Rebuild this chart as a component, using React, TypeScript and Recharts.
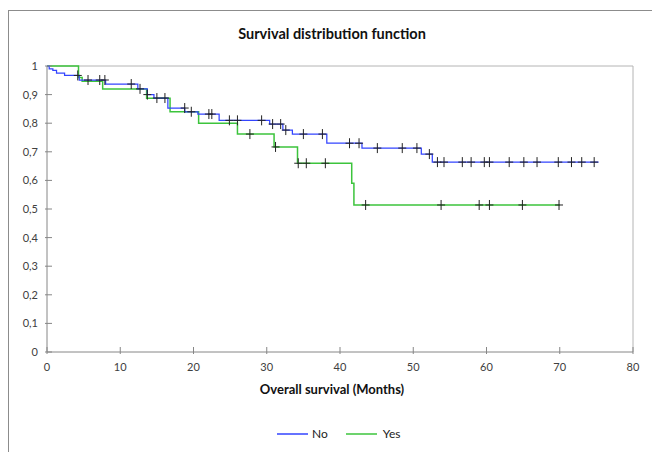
import { ComposedChart, Line, Scatter, XAxis, YAxis, ReferenceLine } from 'recharts';

// Kaplan-Meier step points
const noMonths = [0, 0.3, 0.8, 1.3, 2.4, 4.4, 8.0, 12.4, 13.7, 14.6, 16.5, 18.8, 20.6, 23.5, 30.4, 32.2, 33.5, 38.2, 43.0, 51.1, 52.6, 75.3];
const noSurv = [1, 0.99, 0.985, 0.975, 0.967, 0.951, 0.937, 0.92, 0.9, 0.888, 0.853, 0.84, 0.832, 0.81, 0.797, 0.776, 0.762, 0.73, 0.713, 0.692, 0.664, 0.664];

const yesMonths = [0, 4.3, 4.8, 7.6, 13.6, 16.8, 20.7, 26.0, 31.0, 34.2, 41.6, 41.9, 70.0];
const yesSurv = [1, 0.96, 0.947, 0.92, 0.887, 0.84, 0.8, 0.762, 0.717, 0.66, 0.59, 0.514, 0.514];

// censored observations (+ marks)
const noCensMonths = [4.2, 5.6, 7.2, 7.9, 11.5, 12.7, 13.7, 15.0, 16.1, 18.8, 19.7, 22.1, 22.5, 24.9, 26.0, 29.3, 30.8, 31.9, 32.6, 35.0, 37.6, 41.3, 42.6, 45.1, 48.5, 50.5, 52.2, 53.3, 54.2, 56.7, 57.9, 59.7, 60.4, 63.1, 65.1, 66.9, 69.8, 71.6, 73.0, 74.7];
const noCensSurv = [0.967, 0.951, 0.951, 0.951, 0.937, 0.92, 0.9, 0.888, 0.888, 0.853, 0.84, 0.832, 0.832, 0.81, 0.81, 0.81, 0.797, 0.797, 0.776, 0.762, 0.762, 0.73, 0.73, 0.713, 0.713, 0.713, 0.692, 0.664, 0.664, 0.664, 0.664, 0.664, 0.664, 0.664, 0.664, 0.664, 0.664, 0.664, 0.664, 0.664];

const yesCensMonths = [27.7, 31.2, 34.3, 35.4, 38.0, 43.5, 53.8, 59.0, 60.4, 64.9, 69.9];
const yesCensSurv = [0.762, 0.717, 0.66, 0.66, 0.66, 0.514, 0.514, 0.514, 0.514, 0.514, 0.514];

const xTicks = [0, 10, 20, 30, 40, 50, 60, 70, 80];
const yTicks = [0, 0.1, 0.2, 0.3, 0.4, 0.5, 0.6, 0.7, 0.8, 0.9, 1];

const BLUE = '#3344ff';
const GREEN = '#3cc43c';
const AXIS = '#868686';
const FONT = 'Lato, "Liberation Sans", sans-serif';

const toPoints = (xs: number[], ys: number[]) => xs.map((t, i) => ({ t, s: ys[i] }));

const noData = toPoints(noMonths, noSurv);
const yesData = toPoints(yesMonths, yesSurv);
const noCens = toPoints(noCensMonths, noCensSurv);
const yesCens = toPoints(yesCensMonths, yesCensSurv);

const fmtY = (v: number) => (v === 0 || v === 1 ? String(v) : v.toFixed(1).replace('.', ','));

function YTick({ x, y, payload }: any) {
  return (
    <g>
      <line x1={x - 2} x2={x + 5} y1={y} y2={y} stroke={AXIS} />
      <text x={x - 9} y={y + 4} textAnchor="end" fontSize={11} fill="#404040" fontFamily={FONT}>
        {fmtY(payload.value)}
      </text>
    </g>
  );
}

function XTick({ x, y, payload }: any) {
  return (
    <g>
      <line x1={x} x2={x} y1={y - 5} y2={y + 2} stroke={AXIS} />
      <text x={x} y={y + 19} textAnchor="middle" fontSize={11} fill="#404040" fontFamily={FONT}>
        {payload.value}
      </text>
    </g>
  );
}

function Cross({ cx, cy }: any) {
  return <path d={`M${cx - 4},${cy}H${cx + 4}M${cx},${cy - 5}V${cy + 5}`} stroke="#222" strokeWidth={1} fill="none" />;
}

function LegendSwatch({ color }: { color: string }) {
  return (
    <svg width={31} height={4} style={{ display: 'block' }}>
      <line x1={0} x2={31} y1={2} y2={2} stroke={color} strokeWidth={1.5} />
    </svg>
  );
}

export default function App() {
  return (
    <div style={{ position: 'absolute', left: 0, top: 0, width: 652, height: 452, overflow: 'hidden', background: '#fff', fontFamily: FONT }}>
      <style>{'body{overflow:hidden}'}</style>
      <div style={{ position: 'absolute', left: 8, top: 10, width: 700, height: 500, borderTop: '1px solid #8c8c8c', borderLeft: '1px solid #8c8c8c' }} />
      <div style={{ position: 'absolute', left: 0, width: 664, top: 25, textAlign: 'center', fontWeight: 700, fontSize: 14.5, color: '#111' }}>
        Survival distribution function
      </div>
      <div style={{ position: 'absolute', left: 0, width: 664, top: 381, textAlign: 'center', fontWeight: 700, fontSize: 13, color: '#111' }}>
        Overall survival (Months)
      </div>
      <div style={{ position: 'absolute', top: 426, left: 277, display: 'flex', alignItems: 'center', fontSize: 12, color: '#222' }}>
        <LegendSwatch color={BLUE} />
        <span style={{ marginLeft: 4 }}>No</span>
        <span style={{ marginLeft: 18 }}>
          <LegendSwatch color={GREEN} />
        </span>
        <span style={{ marginLeft: 6 }}>Yes</span>
      </div>
      <div style={{ position: 'absolute', left: 0, top: 0 }}>
        <ComposedChart width={652} height={452} margin={{ top: 66, right: 19, bottom: 70, left: 0 }}>
          <XAxis
            type="number"
            dataKey="t"
            domain={[0, 80]}
            ticks={xTicks}
            allowDataOverflow
            height={30}
            stroke={AXIS}
            tickSize={0}
            tickMargin={0}
            tickLine={false}
            tick={<XTick />}
            interval={0}
          />
          <YAxis
            type="number"
            dataKey="s"
            domain={[0, 1]}
            ticks={yTicks}
            width={47}
            stroke={AXIS}
            tickSize={0}
            tickMargin={0}
            tickLine={false}
            tick={<YTick />}
            interval={0}
          />
          <ReferenceLine y={1} stroke="#b4b4b4" />
          <ReferenceLine x={80} stroke="#b4b4b4" />
          <Line data={yesData} dataKey="s" type="stepAfter" stroke={GREEN} strokeWidth={1.5} dot={false} isAnimationActive={false} />
          <Line data={noData} dataKey="s" type="stepAfter" stroke={BLUE} strokeWidth={1.25} dot={false} isAnimationActive={false} />
          <Scatter data={noCens} dataKey="s" shape={<Cross />} isAnimationActive={false} />
          <Scatter data={yesCens} dataKey="s" shape={<Cross />} isAnimationActive={false} />
        </ComposedChart>
      </div>
    </div>
  );
}
